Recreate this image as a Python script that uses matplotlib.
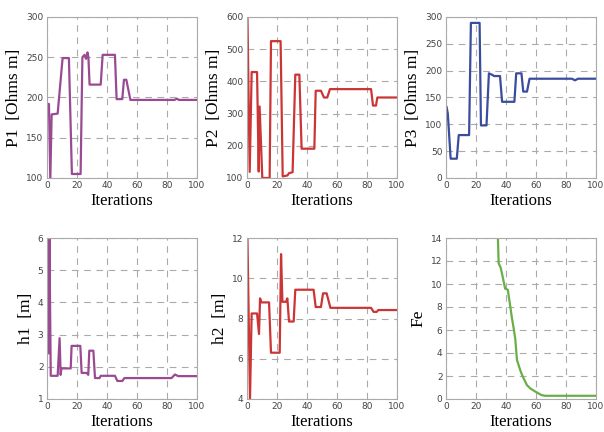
import matplotlib.pyplot as plt

# values (iteration, value)
p1_x = [0, 1.3, 2.2, 3.1, 7.1, 10.4, 14.6, 16.6, 22.4, 23.6, 25, 26, 27, 27.6, 28.4, 35.8, 37.1, 45.3, 46.4, 50.2, 51.3, 52.9, 55.6, 85, 86.5, 88, 100]
p1_y = [192, 192, 98, 179, 180, 249, 249, 105, 105, 250, 253, 248, 256, 250, 216, 216, 253, 253, 198, 198, 222, 222, 197, 197, 198.5, 197, 197]

p2_x = [0.3, 1.8, 3.1, 6.7, 7.8, 8.4, 10.2, 15.1, 16, 22.4, 23.8, 27, 28, 30.4, 32.2, 34.9, 36.4, 44.9, 45.8, 49.3, 51.3, 53.5, 55.3, 82.7, 84, 86, 86.9, 100]
p2_y = [600, 119, 429, 429, 120, 322, 100, 100, 525, 525, 105, 108, 115, 118, 421, 421, 191, 191, 371, 371, 350, 350, 376, 376, 325, 325, 350, 350]

p3_x = [0.4, 1.2, 3.1, 7.2, 8.5, 15.4, 16.6, 22.4, 23.3, 27, 28.6, 31, 32, 36, 37.4, 45.6, 46.8, 50.3, 51.5, 54, 55.7, 84, 86, 88, 100]
p3_y = [132, 120, 36, 36, 80, 80, 289, 289, 98, 98, 195, 192, 190, 190, 142, 142, 195, 195, 161, 161, 185, 185, 182, 185, 185]

h1_x = [0.3, 1.3, 1.6, 2.5, 7.1, 8.4, 9.1, 9.6, 15.8, 16.4, 22.2, 23.1, 26.5, 27.5, 28.2, 30.9, 32, 35, 35.8, 45.3, 46.9, 50.2, 51.6, 83, 85.3, 87.5, 100]
h1_y = [2.42, 2.42, 6, 1.72, 1.72, 2.89, 1.75, 1.95, 1.95, 2.65, 2.65, 1.81, 1.81, 1.75, 2.5, 2.5, 1.65, 1.65, 1.72, 1.72, 1.56, 1.56, 1.65, 1.65, 1.76, 1.71, 1.71]

h2_x = [0.3, 2, 3.1, 6.7, 8, 8.7, 9.6, 14.7, 16, 21.8, 22.7, 23.6, 26, 26.9, 28, 31.1, 32.2, 44.4, 45.8, 49.3, 50.7, 53.1, 55.6, 82.7, 84.4, 86.5, 87.5, 100]
h2_y = [12, 4, 8.25, 8.25, 7.23, 9.0, 8.8, 8.8, 6.3, 6.3, 11.2, 8.83, 8.83, 9.0, 7.85, 7.85, 9.43, 9.43, 8.57, 8.57, 9.25, 9.25, 8.53, 8.53, 8.33, 8.33, 8.42, 8.42]

fe_x = [34.5, 35.1, 36.5, 38, 39.4, 41.2, 42.9, 44, 45.3, 46.2, 47.3, 49.5, 51, 54, 56.4, 59.5, 63.5, 66, 100]
fe_y = [14.5, 11.8, 11.4, 10.5, 9.6, 9.5, 8.0, 7.0, 6.0, 5.2, 3.4, 2.5, 2.0, 1.2, 0.9, 0.65, 0.35, 0.28, 0.28]

purple = '#9a4a92'
red = '#cc3535'
blue = '#3a4c9e'
green = '#6aae48'

panels = [
    (p1_x, p1_y, purple, 'P1  [Ohms m]', (100, 300), [100, 150, 200, 250, 300]),
    (p2_x, p2_y, red, 'P2  [Ohms m]', (100, 600), [100, 200, 300, 400, 500, 600]),
    (p3_x, p3_y, blue, 'P3  [Ohms m]', (0, 300), [0, 50, 100, 150, 200, 250, 300]),
    (h1_x, h1_y, purple, 'h1  [m]', (1, 6), [1, 2, 3, 4, 5, 6]),
    (h2_x, h2_y, red, 'h2  [m]', (4, 12), [4, 6, 8, 10, 12]),
    (fe_x, fe_y, green, 'Fe', (0, 14), [0, 2, 4, 6, 8, 10, 12, 14]),
]

fig = plt.figure(figsize=(6.04, 4.32), dpi=100)
lefts = [47, 247, 446]
bottoms = [178, 399]
for i, (x, y, c, lab, ylim, yt) in enumerate(panels):
    col, row = i % 3, i // 3
    ax = fig.add_axes([lefts[col] / 604, 1 - bottoms[row] / 432, 150 / 604, 161 / 432])
    ax.plot(x, y, color=c, lw=1.6)
    ax.set_xlim(0, 100)
    ax.set_ylim(*ylim)
    ax.set_xticks([0, 20, 40, 60, 80, 100])
    ax.set_yticks(yt)
    ax.grid(True, color='#aaaaaa', linestyle=(0, (6, 5)), lw=0.8)
    for s in ax.spines.values():
        s.set_color('#aaaaaa')
        s.set_linewidth(0.8)
    ax.tick_params(length=0, labelsize=6.5, labelcolor='#444444', pad=2.5)
    ax.set_xlabel('Iterations', family='Liberation Serif', fontsize=12, labelpad=2)
    ax.set_ylabel(lab, family='Liberation Serif', fontsize=12.5, labelpad=3)

fig.savefig('out.png', dpi=100)
